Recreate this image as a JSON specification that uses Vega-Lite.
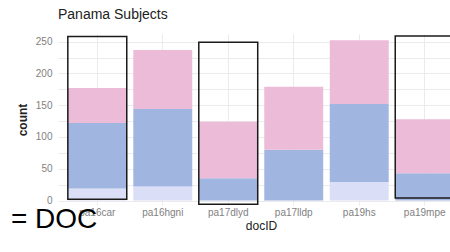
{
  "$schema": "https://vega.github.io/schema/vega-lite/v6.json",
  "width": 392,
  "height": 171,
  "autosize": "none",
  "padding": {"left": 58, "top": 34, "right": 0, "bottom": 47},
  "background": "white",
  "title": {"text": "Panama Subjects", "anchor": "start", "frame": "group", "fontSize": 14, "font": "Liberation Sans", "fontWeight": "normal", "color": "#222222", "offset": 12},
  "config": {
    "view": {"stroke": null},
    "font": "Liberation Sans",
    "axis": {"domain": false, "ticks": false, "gridColor": "#ebebeb", "gridWidth": 1, "labelColor": "#7f7f7f", "labelFontSize": 10, "titleColor": "#222222", "titleFontSize": 12, "titleFontWeight": "normal", "labelFont": "Liberation Sans", "titleFont": "Liberation Sans"},
    "axisY": {"titleFontWeight": "bold"}
  },
  "datasets": {
    "bars": [
      {"docID": "pa16car", "group": "C", "ord": 1, "count": 19},
      {"docID": "pa16car", "group": "B", "ord": 2, "count": 103},
      {"docID": "pa16car", "group": "A", "ord": 3, "count": 55},
      {"docID": "pa16hgni", "group": "C", "ord": 1, "count": 22},
      {"docID": "pa16hgni", "group": "B", "ord": 2, "count": 122},
      {"docID": "pa16hgni", "group": "A", "ord": 3, "count": 93},
      {"docID": "pa17dlyd", "group": "C", "ord": 1, "count": 0},
      {"docID": "pa17dlyd", "group": "B", "ord": 2, "count": 35},
      {"docID": "pa17dlyd", "group": "A", "ord": 3, "count": 89},
      {"docID": "pa17lldp", "group": "C", "ord": 1, "count": 0},
      {"docID": "pa17lldp", "group": "B", "ord": 2, "count": 80},
      {"docID": "pa17lldp", "group": "A", "ord": 3, "count": 99},
      {"docID": "pa19hs", "group": "C", "ord": 1, "count": 29},
      {"docID": "pa19hs", "group": "B", "ord": 2, "count": 123},
      {"docID": "pa19hs", "group": "A", "ord": 3, "count": 100},
      {"docID": "pa19mpe", "group": "C", "ord": 1, "count": 0},
      {"docID": "pa19mpe", "group": "B", "ord": 2, "count": 43},
      {"docID": "pa19mpe", "group": "A", "ord": 3, "count": 85}
    ],
    "boxes": [
      {"docID": "pa16car", "lo": 2, "hi": 258},
      {"docID": "pa17dlyd", "lo": -6, "hi": 249},
      {"docID": "pa19mpe", "lo": 4, "hi": 259}
    ],
    "note": [
      {"docID": "pa16car", "y": -30, "label": "= DOC"}
    ]
  },
  "layer": [
    {
      "data": {"name": "bars"},
      "mark": {"type": "bar"},
      "encoding": {
        "x": {
          "field": "docID", "type": "nominal", "sort": ["pa16car", "pa16hgni", "pa17dlyd", "pa17lldp", "pa19hs", "pa19mpe"],
          "scale": {"domain": ["pa16car", "pa16hgni", "pa17dlyd", "pa17lldp", "pa19hs", "pa19mpe"], "paddingInner": 0.1, "paddingOuter": 0.15, "range": [0, 406]},
          "axis": {"labelAngle": 0, "grid": true, "bandPosition": 0.5, "labelPadding": 2, "title": "docID", "titlePadding": 3, "labelOverlap": false}
        },
        "y": {
          "field": "count", "type": "quantitative", "stack": "zero",
          "scale": {"domain": [-7, 262], "nice": false, "zero": false},
          "axis": {"values": [0, 25, 50, 75, 100, 125, 150, 175, 200, 225, 250], "labelExpr": "datum.value % 50 == 0 ? datum.label : ''", "labelOverlap": false, "title": "count", "labelPadding": 6, "titlePadding": 6}
        },
        "color": {"field": "group", "type": "nominal", "scale": {"domain": ["A", "B", "C"], "range": ["#ebbbd7", "#a0b5e0", "#dadef7"]}, "legend": null},
        "order": {"field": "ord", "type": "quantitative"}
      }
    },
    {
      "data": {"name": "boxes"},
      "mark": {"type": "rect", "fill": null, "stroke": "#1a1a1a", "strokeWidth": 1.5},
      "encoding": {
        "x": {"field": "docID", "type": "nominal", "axis": {"labelAngle": 0, "grid": true, "bandPosition": 0.5, "labelPadding": 2, "title": "docID", "titlePadding": 3, "labelOverlap": false}},
        "y": {"field": "lo", "type": "quantitative", "axis": {"values": [0, 25, 50, 75, 100, 125, 150, 175, 200, 225, 250], "labelExpr": "datum.value % 50 == 0 ? datum.label : ''", "labelOverlap": false, "title": "count", "labelPadding": 6, "titlePadding": 6}},
        "y2": {"field": "hi"}
      }
    },
    {
      "data": {"name": "note"},
      "mark": {"type": "text", "align": "right", "baseline": "middle", "fontSize": 28, "font": "Liberation Sans", "color": "#000000"},
      "encoding": {
        "x": {"field": "docID", "type": "nominal", "axis": {"labelAngle": 0, "grid": true, "bandPosition": 0.5, "labelPadding": 2, "title": "docID", "titlePadding": 3, "labelOverlap": false}},
        "y": {"field": "y", "type": "quantitative", "axis": {"values": [0, 25, 50, 75, 100, 125, 150, 175, 200, 225, 250], "labelExpr": "datum.value % 50 == 0 ? datum.label : ''", "labelOverlap": false, "title": "count", "labelPadding": 6, "titlePadding": 6}},
        "text": {"field": "label"}
      }
    }
  ]
}
